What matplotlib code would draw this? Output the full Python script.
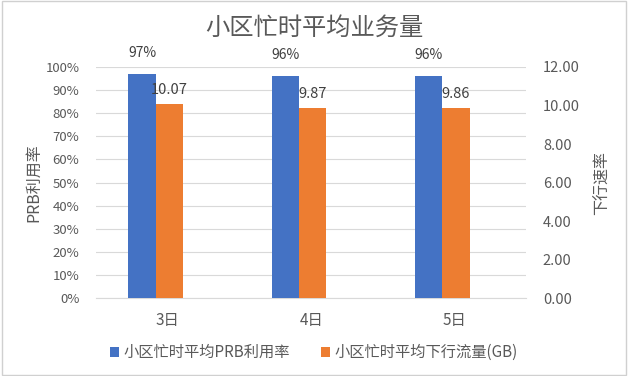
import matplotlib.pyplot as plt
import numpy as np
from matplotlib.patches import Rectangle
from matplotlib.ticker import FuncFormatter

plt.rcParams['font.family'] = ['Noto Sans CJK SC', 'DejaVu Sans']

days = ['3日', '4日', '5日']
prb_rate = [97, 96, 96]
dl_traffic = [10.07, 9.87, 9.86]
prb_labels = ['97%', '96%', '96%']
dl_labels = ['10.07', '9.87', '9.86']

blue = '#4472C4'
orange = '#ED7D31'
grey = '#595959'

fig = plt.figure(figsize=(6.28, 3.76), dpi=100)
fig.patches.append(Rectangle((0.003, 0.003), 0.994, 0.994, transform=fig.transFigure,
                             fill=False, edgecolor='#d0d0d0', linewidth=1))

ax = fig.add_axes([0.153, 0.207, 0.685, 0.615])
ax2 = ax.twinx()

x = np.arange(len(days))
w = 0.19
shift = -0.085  # bars sit a little left of the tick labels

b1 = ax.bar(x + shift - w / 2, prb_rate, w, color=blue, zorder=3, label='小区忙时平均PRB利用率')
b2 = ax2.bar(x + shift + w / 2, dl_traffic, w, color=orange, zorder=3, label='小区忙时平均下行流量(GB)')

ax.set_xlim(-0.5, 2.5)
ax.set_ylim(0, 100)
ax2.set_ylim(0, 12)
ax.set_yticks(range(0, 101, 10))
ax2.set_yticks(range(0, 13, 2))
ax.yaxis.set_major_formatter(FuncFormatter(lambda v, p: '%d%%' % v))
ax2.yaxis.set_major_formatter(FuncFormatter(lambda v, p: '%.2f' % v))
ax.set_xticks(x)
ax.set_xticklabels(days)

ax.grid(axis='y', color='#d9d9d9', linewidth=0.8, zorder=0)
for a in (ax, ax2):
    for s in a.spines.values():
        s.set_visible(False)
    a.tick_params(length=0, colors=grey, labelsize=9.5)
ax.spines['bottom'].set_visible(True)
ax.spines['bottom'].set_color('#d9d9d9')
ax.tick_params(axis='y', pad=12)
ax2.tick_params(axis='y', pad=12, labelsize=10.5)
ax.tick_params(axis='x', pad=10, labelsize=11)

ax.set_ylabel('PRB利用率', color=grey, fontsize=11.5)
ax2.set_ylabel('下行速率', color=grey, fontsize=11.5, rotation=90)
ax.yaxis.set_label_coords(-0.125, 0.5)
ax2.yaxis.set_label_coords(1.156, 0.5)

for rect, lab in zip(b1, prb_labels):
    ax.annotate(lab, (rect.get_x() + rect.get_width() / 2, rect.get_height()),
                xytext=(0, 10), textcoords='offset points', ha='center', va='bottom',
                fontsize=10, color='#404040')
for rect, lab in zip(b2, dl_labels):
    ax2.annotate(lab, (rect.get_x() + rect.get_width() / 2, rect.get_height()),
                 xytext=(0, 5), textcoords='offset points', ha='center', va='bottom',
                 fontsize=10.5, color='#404040')

fig.text(0.5, 0.925, '小区忙时平均业务量', ha='center', va='center', fontsize=17.5, color=grey)

fig.legend(handles=[b1, b2], loc='center', bbox_to_anchor=(0.5, 0.062), ncol=2,
           frameon=False, fontsize=11, handlelength=0.6, handleheight=0.6,
           handletextpad=0.3, columnspacing=2.0, labelcolor=grey)

fig.savefig('out.png', dpi=100)
